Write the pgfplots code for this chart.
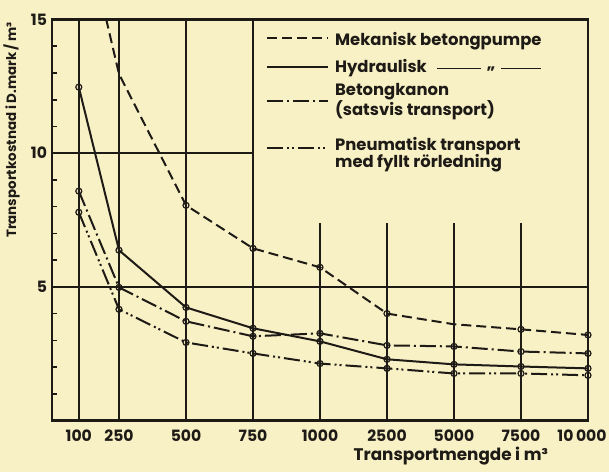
\documentclass[border=0pt]{standalone}
\usepackage{pgfplots}
\pgfplotsset{compat=1.18}
\usepackage{fontspec}
\setmainfont{Poppins}
\definecolor{bg}{HTML}{F8F1C6}
\definecolor{ink}{HTML}{1E1A16}
\tikzset{
  mek/.style={ink, line width=1pt, dash pattern=on 5pt off 2.5pt},
  hyd/.style={ink, line width=1pt},
  bet/.style={ink, line width=1pt, dash pattern=on 8pt off 2pt on 1pt off 2pt},
  pne/.style={ink, line width=1pt, dash pattern=on 8pt off 2pt on 1pt off 1.5pt on 1pt off 2pt},
  gridl/.style={ink, line width=0.85pt},
  framel/.style={ink, line width=1.1pt, line cap=rect},
  tickl/.style={ink, line width=0.8pt},
  leg/.style={anchor=base west, inner sep=0pt, text=ink, font=\bfseries\fontsize{8.2}{10}\selectfont},
}
\pgfplotsset{mk/.style={mark=o, mark size=1.5pt, mark options={solid, fill=bg, line width=0.6pt}}}
\begin{document}
\begin{tikzpicture}[font=\bfseries\fontsize{8}{10}\selectfont]
\fill[bg] (-26pt,-25.5pt) rectangle (278.5pt,210.25pt);
\begin{axis}[
  name=ax,
  at={(0,0)}, anchor=south west,
  scale only axis, width=268pt, height=200.5pt,
  xmin=0, xmax=8, ymin=0, ymax=15,
  clip mode=individual,
  axis line style={ink, line width=1pt},
  xtick={0.4,1,2,3,4,5,6,7,8},
  xticklabels={100,250,500,750,1000,2500,5000,7500,\makebox[0pt]{10\,000\hspace{6pt}}},
  ytick={5,10,15},
  major tick length=0pt,
  /pgf/number format/assume math mode=true,
  ticklabel style={font=\bfseries\fontsize{7.8}{10}\selectfont, text=ink},
  xticklabel style={yshift=-1pt},
  yticklabel style={xshift=1pt},
  xlabel={Transportmengde i m³},
  xlabel style={at={(axis description cs:0.744,0)}, anchor=center, yshift=-18pt, text=ink, font=\bfseries\fontsize{8.4}{10}\selectfont},
  ylabel={Transportkostnad i D.mark\,/\,m³},
  ylabel style={at={(axis description cs:-0.047,1.01)}, anchor=south east, text=ink, font=\bfseries\fontsize{6.7}{10}\selectfont},
]
% grid
\draw[gridl] (axis cs:0.4,0) -- (axis cs:0.4,15);
\draw[gridl] (axis cs:1,0) -- (axis cs:1,15);
\draw[gridl] (axis cs:2,0) -- (axis cs:2,15);
\draw[gridl] (axis cs:3,0) -- (axis cs:3,15);
\draw[gridl] (axis cs:4,0) -- (axis cs:4,7.4);
\draw[gridl] (axis cs:5,0) -- (axis cs:5,7.4);
\draw[gridl] (axis cs:6,0) -- (axis cs:6,7.4);
\draw[gridl] (axis cs:7,0) -- (axis cs:7,7.4);
\draw[gridl] (axis cs:0,5) -- (axis cs:8,5);
\draw[gridl] (axis cs:0,10) -- (axis cs:3,10);
% frame
\draw[framel] (axis cs:0,0) -- (axis cs:8,0);
\draw[framel] (axis cs:0,15) -- (axis cs:8,15);
\draw[framel] (axis cs:0,0) -- (axis cs:0,15);
\draw[framel] (axis cs:8,0) -- (axis cs:8,15);
% minor ticks
\draw[tickl] (axis cs:0,1) -- (axis cs:0.08,1);
\draw[tickl] (axis cs:0,2) -- (axis cs:0.08,2);
\draw[tickl] (axis cs:0,3) -- (axis cs:0.08,3);
\draw[tickl] (axis cs:0,4) -- (axis cs:0.08,4);
\draw[tickl] (axis cs:0,6) -- (axis cs:0.08,6);
\draw[tickl] (axis cs:0,7) -- (axis cs:0.08,7);
\draw[tickl] (axis cs:0,8) -- (axis cs:0.08,8);
\draw[tickl] (axis cs:0,9) -- (axis cs:0.08,9);
\draw[tickl] (axis cs:0,11) -- (axis cs:0.08,11);
\draw[tickl] (axis cs:0,12) -- (axis cs:0.08,12);
\draw[tickl] (axis cs:0,13) -- (axis cs:0.08,13);
\draw[tickl] (axis cs:0,14) -- (axis cs:0.08,14);

% Mekanisk betongpumpe
\addplot[mek, mk, mark indices={2,3,4,5,7,8,9}] coordinates {
 (0.4,19.4) (1,12.96) (2,8.05) (3,6.44) (4,5.73) (5,4.0) (6,3.6) (7,3.41) (8,3.2)};
% Hydraulisk
\addplot[hyd, mk] coordinates {
 (0.4,12.47) (1,6.37) (2,4.23) (3,3.45) (4,2.96) (5,2.29) (6,2.1) (7,2.02) (8,1.95)};
% Betongkanon
\addplot[bet, mk] coordinates {
 (0.4,8.58) (1,4.98) (2,3.71) (3,3.15) (4,3.26) (5,2.81) (6,2.77) (7,2.58) (8,2.51)};
% Pneumatisk
\addplot[pne, mk] coordinates {
 (0.4,7.79) (1,4.16) (2,2.92) (3,2.51) (4,2.13) (5,1.95) (6,1.76) (7,1.76) (8,1.69)};

% legend
\draw[mek] (axis cs:3.21,14.32) -- (axis cs:4.12,14.32);
\draw[hyd] (axis cs:3.21,13.23) -- (axis cs:4.12,13.23);
\draw[bet] (axis cs:3.21,11.95) -- (axis cs:4.12,11.95);
\draw[pne] (axis cs:3.21,10.20) -- (axis cs:4.12,10.20);
\node[leg] at (axis cs:4.22,14.04) {Mekanisk betongpumpe};
\node[leg] at (axis cs:4.22,13.03) {Hydraulisk\hspace{5pt}\rule[0.3ex]{22pt}{0.9pt}\hspace{3pt}\raisebox{0.3ex}{„}\hspace{3pt}\rule[0.3ex]{20pt}{0.9pt}};
\node[leg] at (axis cs:4.22,12.17) {Betongkanon};
\node[leg] at (axis cs:4.22,11.42) {(satsvis transport)};
\node[leg] at (axis cs:4.22,10.11) {Pneumatisk transport};
\node[leg] at (axis cs:4.22,9.48) {med fyllt rörledning};
\end{axis}
\pgfresetboundingbox
\path[use as bounding box] (-26pt,-25.5pt) rectangle (278.5pt,210.25pt);
\end{tikzpicture}
\end{document}
